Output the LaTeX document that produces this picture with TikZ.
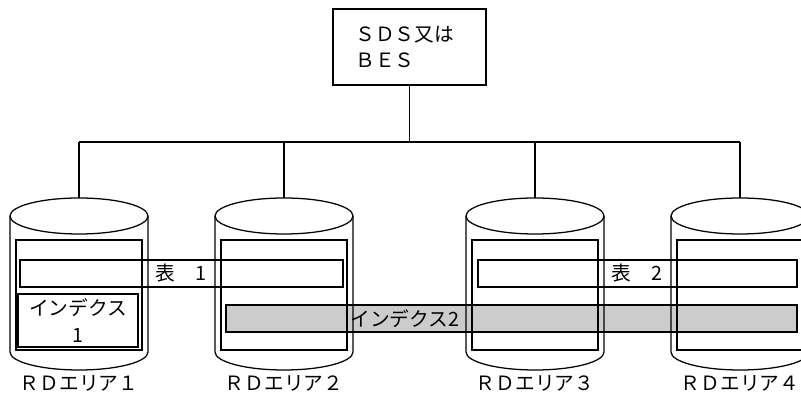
\documentclass[tikz,border=0pt]{standalone}
\usepackage{fontspec}
\setmainfont{Noto Sans CJK JP}
\begin{document}
\begin{tikzpicture}[
        x=0.025cm, y=-0.025cm,
        wire/.style={line width=1.1pt},
        outline/.style={line width=0.9pt},
        lbl/.style={inner sep=0pt, font=\fontsize{14}{19}\selectfont},
    ]
        \clip (0,0) rectangle (801,398);

        % Server
        \node[draw, line width=1.2pt, minimum width=3.825cm, minimum height=1.9cm,
              text width=2.7cm, align=left, font=\fontsize{14}{19}\selectfont]
              (sds) at (409.5,47) {ＳＤＳ又は\\ＢＥＳ};

        % Index 2 shading (under the disks)
        \fill[gray!40] (226,305) rectangle (797,332);

        % RD areas
        \foreach \cx/\n/\d in {79/1/１, 284/2/２, 535/3/３, 740/4/４} {
            \coordinate (bus\n) at (\cx,142);
            \coordinate (top\n) at (\cx,198);
            \draw[outline] (\cx+69,216) -- (\cx+69,352)
                arc[start angle=0, end angle=180, x radius=69, y radius=18]
                -- (\cx-69,216);
            \draw[outline] (\cx,216) ellipse[x radius=69, y radius=18];
            \draw[outline] (\cx-63,240) rectangle (\cx+63,350);
            \node[lbl] (area\n) at (\cx,383) {ＲＤエリア\d};
        }

        % Tables and indexes
        \draw[outline] (20,260) rectangle (343,287);
        \node[lbl] (tbl1) at (181,273.5) {表　1};
        \draw[outline] (478,260) rectangle (797,287);
        \node[lbl] (tbl2) at (637,273.5) {表　2};
        \draw[outline] (18,294) rectangle (138,347);
        \node[lbl, align=center] (idx1) at (78,320.5) {インデクス\\1};
        \draw[outline] (226,305) rectangle (797,332);
        \node[lbl] (idx2) at (405,318.5) {インデクス2};

        % Connections
        \draw[wire] (sds.south) -- (sds.south |- bus1);
        \draw[wire] (bus1) -- (bus4);
        \foreach \n in {1,...,4}
            \draw[wire] (bus\n) -- (top\n);
    \end{tikzpicture}
\end{document}
